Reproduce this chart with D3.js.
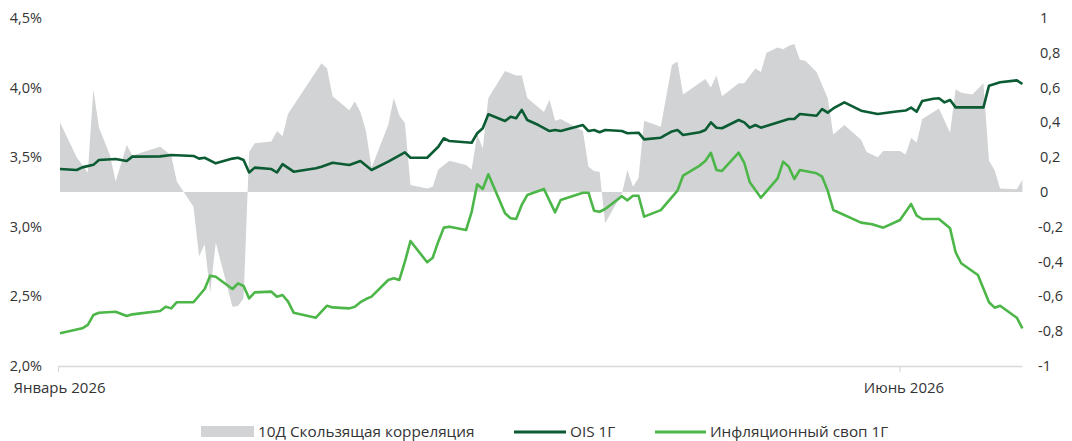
<!DOCTYPE html>
<html>
<head>
<meta charset="utf-8">
<script src="https://cdn.jsdelivr.net/npm/d3@7"></script>
<style>
  body { margin: 0; background: #fff; }
  svg text { font-family: "Open Sans", Lato, sans-serif; fill: #333; }
</style>
</head>
<body>
<svg width="1072" height="441"></svg>
<script>
// 10Д скользящая корреляция (правая ось)
var corrDates = ['01-01','01-04','01-06','01-07','01-08','01-10','01-11','01-13','01-14','01-19','01-21','01-22','01-25','01-26','01-27','01-28','01-29',
  '02-01','02-02','02-03','02-04','02-05','02-08','02-09','02-10','02-11','02-17','02-18','02-19','02-22','02-23','02-24','02-25','02-26',
  '03-01','03-02','03-03','03-04','03-05','03-08','03-09','03-10','03-12','03-15','03-16','03-17','03-18','03-19','03-22','03-24','03-25','03-26','03-29','03-30','03-31',
  '04-01','04-05','04-06','04-07','04-08','04-09','04-12','04-13','04-14','04-15','04-16','04-19','04-21','04-22','04-23','04-27','04-28','04-29','04-30',
  '05-03','05-04','05-06','05-07','05-08','05-10','05-11','05-12','05-13','05-14','05-15','05-17','05-19','05-20','05-22','05-25','05-26','05-28','05-29',
  '06-01','06-02','06-03','06-04','06-05','06-08','06-10','06-11','06-12','06-14','06-16','06-17','06-18','06-19','06-22','06-23'];
var corrValues = [0.40,0.20,0.11,0.59,0.37,0.21,0.06,0.27,0.21,0.26,0.21,0.06,-0.085,-0.37,-0.30,-0.58,-0.29,
  -0.66,-0.655,-0.61,0.23,0.28,0.29,0.35,0.32,0.45,0.74,0.71,0.55,0.47,0.52,0.46,0.35,0.14,
  0.385,0.54,0.44,0.395,0.04,0.02,0.03,0.13,0.18,0.155,0.13,0.33,0.25,0.54,0.695,0.67,0.67,0.54,0.46,0.53,0.41,
  0.42,0.35,0.145,0.12,0.117,-0.18,-0.01,0.126,0.03,0.08,0.41,0.375,0.73,0.75,0.56,0.65,0.60,0.67,0.55,
  0.625,0.625,0.71,0.69,0.80,0.83,0.82,0.84,0.85,0.76,0.755,0.69,0.54,0.33,0.385,0.30,0.23,0.20,0.235,
  0.235,0.215,0.31,0.285,0.42,0.48,0.34,0.59,0.57,0.56,0.625,0.18,0.126,0.02,0.016,0.07];

// OIS 1Г, %
var oisDates = ['01-01','01-04','01-05','01-07','01-08','01-11','01-13','01-14','01-19','01-21','01-25','01-26','01-27','01-29',
  '02-01','02-02','02-03','02-04','02-05','02-08','02-09','02-10','02-12','02-16','02-17','02-19','02-22','02-24','02-26',
  '03-01','03-04','03-05','03-08','03-10','03-11','03-12','03-16','03-17','03-18','03-19','03-22','03-23','03-24','03-25','03-26','03-28','03-30','03-31',
  '04-01','04-05','04-06','04-07','04-08','04-09','04-12','04-13','04-15','04-16','04-19','04-21','04-22','04-23','04-26','04-27','04-28','04-29','04-30',
  '05-03','05-04','05-05','05-06','05-07','05-10','05-12','05-13','05-14','05-17','05-18','05-19','05-20','05-22','05-25','05-28','05-31',
  '06-02','06-03','06-04','06-05','06-07','06-08','06-09','06-10','06-11','06-16','06-17','06-19','06-22','06-23'];
var oisValues = [3.415,3.408,3.427,3.445,3.48,3.487,3.473,3.504,3.506,3.516,3.509,3.49,3.496,3.456,
  3.49,3.496,3.48,3.39,3.425,3.415,3.39,3.45,3.396,3.42,3.432,3.46,3.444,3.473,3.408,
  3.468,3.535,3.496,3.496,3.575,3.636,3.616,3.604,3.672,3.708,3.808,3.76,3.79,3.78,3.84,3.767,3.731,3.688,3.695,
  3.688,3.731,3.688,3.695,3.679,3.695,3.688,3.672,3.676,3.628,3.64,3.685,3.695,3.66,3.679,3.695,3.75,3.712,3.708,
  3.767,3.75,3.712,3.731,3.712,3.75,3.774,3.774,3.81,3.798,3.846,3.82,3.85,3.894,3.834,3.81,3.827,
  3.835,3.856,3.827,3.904,3.92,3.923,3.894,3.911,3.858,3.858,4.014,4.038,4.052,4.026];

// Инфляционный своп 1Г, %
var swapDates = ['01-01','01-05','01-06','01-07','01-08','01-11','01-13','01-14','01-19','01-20','01-21','01-22','01-25','01-27','01-28','01-29',
  '02-01','02-02','02-03','02-04','02-05','02-08','02-09','02-10','02-11','02-12','02-16','02-18','02-19','02-22','02-23','02-24','02-25','02-26',
  '03-01','03-02','03-03','03-04','03-05','03-08','03-09','03-10','03-11','03-12','03-15','03-16','03-17','03-18','03-19','03-22','03-23','03-24','03-25','03-26','03-29','03-31',
  '04-01','04-05','04-06','04-07','04-08','04-09','04-12','04-13','04-14','04-15','04-16','04-19','04-22','04-23','04-26','04-27','04-28','04-29','04-30',
  '05-03','05-04','05-05','05-07','05-10','05-11','05-12','05-13','05-14','05-17','05-18','05-19','05-20','05-25','05-27','05-29',
  '06-01','06-03','06-04','06-05','06-08','06-10','06-11','06-12','06-15','06-17','06-18','06-19','06-22','06-23'];
var swapValues = [2.235,2.271,2.295,2.366,2.383,2.39,2.359,2.371,2.395,2.426,2.414,2.458,2.458,2.553,2.649,2.641,
  2.553,2.594,2.575,2.486,2.529,2.534,2.498,2.51,2.462,2.383,2.347,2.433,2.421,2.414,2.426,2.458,2.481,2.498,
  2.618,2.63,2.618,2.749,2.898,2.745,2.778,2.893,2.994,3.001,2.977,3.108,3.305,3.272,3.377,3.097,3.061,3.056,3.157,3.228,3.272,3.104,
  3.193,3.245,3.245,3.116,3.108,3.128,3.22,3.19,3.223,3.223,3.073,3.12,3.26,3.367,3.44,3.473,3.532,3.408,3.401,
  3.532,3.46,3.32,3.209,3.348,3.468,3.432,3.343,3.408,3.384,3.36,3.26,3.121,3.03,3.018,2.994,
  3.049,3.164,3.08,3.056,3.056,2.989,2.817,2.738,2.654,2.458,2.419,2.433,2.347,2.271];

var leftTicks = [2.0, 2.5, 3.0, 3.5, 4.0, 4.5];
var rightTicks = [-1, -0.8, -0.6, -0.4, -0.2, 0, 0.2, 0.4, 0.6, 0.8, 1];
var monthTicks = ['2026-01-01', '2026-06-01'];
var monthLabels = ['Январь 2026', 'Июнь 2026'];
var legendNames = ['10Д Скользящая корреляция', 'OIS 1Г', 'Инфляционный своп 1Г'];

var parse = d3.timeParse('%Y-%m-%d');
function toPoints(dates, vals) {
  return dates.map(function(d, i) { return { date: parse('2026-' + d), v: vals[i] }; });
}
var corr = toPoints(corrDates, corrValues);
var ois = toPoints(oisDates, oisValues);
var swap = toPoints(swapDates, swapValues);

var svg = d3.select('svg');
var plotTop = 18, plotBottom = 366;

var x = d3.scaleTime()
  .domain([parse('2026-01-01'), parse('2026-06-01')])
  .range([60, 900]);
var yL = d3.scaleLinear().domain([2.0, 4.5]).range([plotBottom, plotTop]);
var yR = d3.scaleLinear().domain([-1, 1]).range([plotBottom, plotTop]);

var grey = '#d1d3d4', dark = '#0b5b33', light = '#4cb748';

// area of correlation
var area = d3.area()
  .x(function(d) { return x(d.date); })
  .y0(yR(0))
  .y1(function(d) { return yR(d.v); });
svg.append('path').datum(corr).attr('d', area).attr('fill', grey);

// lines
var lineL = d3.line()
  .x(function(d) { return x(d.date); })
  .y(function(d) { return yL(d.v); });
svg.append('path').datum(swap).attr('d', lineL)
  .attr('fill', 'none').attr('stroke', light).attr('stroke-width', 2.6).attr('stroke-linejoin', 'round');
svg.append('path').datum(ois).attr('d', lineL)
  .attr('fill', 'none').attr('stroke', dark).attr('stroke-width', 2.6).attr('stroke-linejoin', 'round');

// x axis
var xEnd = x(parse('2026-06-23'));
svg.append('line').attr('x1', 58).attr('x2', xEnd).attr('y1', plotBottom + 0.5).attr('y2', plotBottom + 0.5)
  .attr('stroke', '#d9d9d9').attr('stroke-width', 1.5);
monthTicks.forEach(function(m, i) {
  var px = x(parse(m));
  if (i == 0) px = 58.5;
  svg.append('line').attr('x1', px).attr('x2', px).attr('y1', plotBottom).attr('y2', plotBottom + 6)
    .attr('stroke', '#d9d9d9').attr('stroke-width', 1.2);
  svg.append('text').attr('x', px + (i == 0 ? 1 : 4)).attr('y', 393).attr('text-anchor', 'middle')
    .attr('font-size', 15).text(monthLabels[i]);
});

// left axis labels
var fmtL = function(v) { return d3.format('.1f')(v).replace('.', ',') + '%'; };
svg.selectAll('.yl').data(leftTicks).enter().append('text')
  .attr('x', 42).attr('y', function(d) { return yL(d) + 5; })
  .attr('text-anchor', 'end').attr('font-size', 14.5).text(fmtL);

// right axis labels
var fmtR = function(v) { return (v == 0 || Math.abs(v) == 1) ? String(v) : String(v).replace('.', ','); };
svg.selectAll('.yr').data(rightTicks).enter().append('text')
  .attr('x', function(d) { return d < 0 ? 1038 : 1040; })
  .attr('y', function(d) { return yR(d) + 5; })
  .attr('text-anchor', 'start').attr('font-size', 14.5).text(fmtR);

// legend
var lg = svg.append('g');
lg.append('rect').attr('x', 201).attr('y', 426).attr('width', 53).attr('height', 11).attr('fill', grey);
lg.append('text').attr('x', 258).attr('y', 437).attr('font-size', 15.3).text(legendNames[0]);
lg.append('line').attr('x1', 514).attr('x2', 566).attr('y1', 432).attr('y2', 432).attr('stroke', dark).attr('stroke-width', 3);
lg.append('text').attr('x', 570).attr('y', 437).attr('font-size', 15.3).text(legendNames[1]);
lg.append('line').attr('x1', 655).attr('x2', 706).attr('y1', 432).attr('y2', 432).attr('stroke', light).attr('stroke-width', 3);
lg.append('text').attr('x', 710).attr('y', 437).attr('font-size', 15.3).text(legendNames[2]);
</script>
</body>
</html>
